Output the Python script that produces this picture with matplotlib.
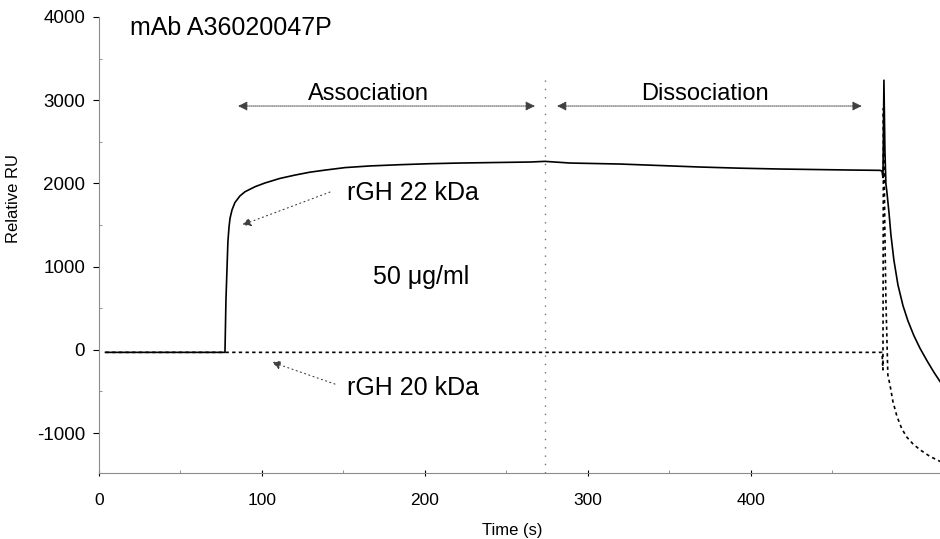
import matplotlib.pyplot as plt
from matplotlib.ticker import MultipleLocator, FixedLocator

plt.rcParams['font.family'] = ['Liberation Sans', 'DejaVu Sans']
plt.rcParams['axes.unicode_minus'] = False

# rGH 22 kDa sensorgram (solid)
t_22 = [4, 77.3, 77.9, 79.1, 79.8, 80.4, 81.6, 83.4, 86.5, 89.6, 95.7, 101.8,
        111.0, 120.2, 129.4, 138.7, 150.9, 166.3, 184.7, 203.1, 221.5, 246.0,
        264.4, 273.6, 289.0, 319.6, 344.2, 368.7, 393.3, 417.8, 460.7, 479.1,
        480.4, 481.0, 481.6, 482.2, 482.8, 483.4, 484.7, 485.9, 487.7, 490.2,
        493.3, 496.3, 500.0, 503.7, 508.0, 512.3, 516]
ru_22 = [-30, -30, 600, 1300, 1480, 1580, 1680, 1770, 1850, 1900, 1960, 2005,
         2060, 2100, 2135, 2160, 2190, 2210, 2225, 2237, 2245, 2252,
         2257, 2265, 2245, 2233, 2215, 2197, 2183, 2173, 2161, 2157,
         2150, 2070, 3240, 2400, 2000, 1900, 1650, 1380, 1080, 780,
         530, 350, 170, 20, -130, -270, -380]

# rGH 20 kDa sensorgram (dotted)
t_20 = [4, 479.1, 480.4, 481.0, 481.3, 482.2, 482.8, 484.0, 485.3, 487.1, 489.6,
        492.6, 495.7, 499.4, 503.7, 509.8, 516]
ru_20 = [-30, -30, -30, -240, 2900, 1390, 600, -300, -420, -620, -800,
         -950, -1050, -1130, -1200, -1280, -1340]

t_switch = 273.6
assoc_span = [85.3, 267.5]
dissoc_span = [281.0, 468.0]
phase_y = 2930

fig = plt.figure(figsize=(9.4, 5.39), dpi=100)
ax = fig.add_axes([0.1053, 0.1224, 0.8947, 0.8461])

ax.plot(t_22, ru_22, color='black', lw=1.2)
ax.plot(t_20, ru_20, color='black', lw=1.2, ls=(0, (2, 2)))

# end of injection
ax.vlines(t_switch, -1480, 3270, color='0.45', lw=1, ls=(0, (1, 5)))

arrow = dict(arrowstyle='<|-|>', color='0.25', lw=0.7, ls=(0, (1, 1)),
             mutation_scale=14, shrinkA=0, shrinkB=0)
ax.annotate('', xy=(assoc_span[0], phase_y), xytext=(assoc_span[1], phase_y), arrowprops=arrow)
ax.annotate('', xy=(dissoc_span[0], phase_y), xytext=(dissoc_span[1], phase_y), arrowprops=arrow)
ax.text(sum(assoc_span) / 2 - 11, 3070, 'Association', fontsize=17, ha='center', va='center')
ax.text(sum(dissoc_span) / 2 - 3, 3070, 'Dissociation', fontsize=17, ha='center', va='center')

pointer = dict(arrowstyle='-|>', color='0.25', lw=0.8, ls=(0, (1, 3)),
               mutation_scale=13, shrinkA=0, shrinkB=0)
ax.annotate('', xy=(87.7, 1500), xytext=(141.7, 1896), arrowprops=pointer)
ax.annotate('', xy=(106, -147), xytext=(144.8, -411), arrowprops=pointer)

ax.text(19, 3870, 'mAb A36020047P', fontsize=18, ha='left', va='center')
ax.text(152, 1884, 'rGH 22 kDa', fontsize=18, ha='left', va='center')
ax.text(168, 875, '50 μg/ml', fontsize=18, ha='left', va='center')
ax.text(152, -460, 'rGH 20 kDa', fontsize=18, ha='left', va='center')

ax.set_xlim(0, 516)
ax.set_ylim(-1480, 4000)
ax.xaxis.set_major_locator(FixedLocator([0, 100, 200, 300, 400]))
ax.xaxis.set_minor_locator(FixedLocator([50, 150, 250, 350, 450]))
ax.yaxis.set_major_locator(MultipleLocator(1000))
ax.yaxis.set_minor_locator(MultipleLocator(500))

for side in ['top', 'right']:
    ax.spines[side].set_visible(False)
for side in ['left', 'bottom']:
    ax.spines[side].set_color('0.55')
    ax.spines[side].set_linewidth(0.8)

ax.tick_params(axis='y', which='major', direction='out', length=4, width=0.8, labelsize=13.5, pad=6)
ax.tick_params(axis='x', which='major', direction='inout', length=5, width=0.8, labelsize=12.5, pad=12)
ax.tick_params(which='minor', direction='in', length=2, width=0.6, color='0.5')

ax.set_xlabel('Time (s)', fontsize=12)
ax.set_ylabel('Relative RU', fontsize=12)
ax.xaxis.set_label_coords(0.491, -0.11)
ax.yaxis.set_label_coords(-0.093, 0.603)

fig.savefig('out.png', dpi=100)
